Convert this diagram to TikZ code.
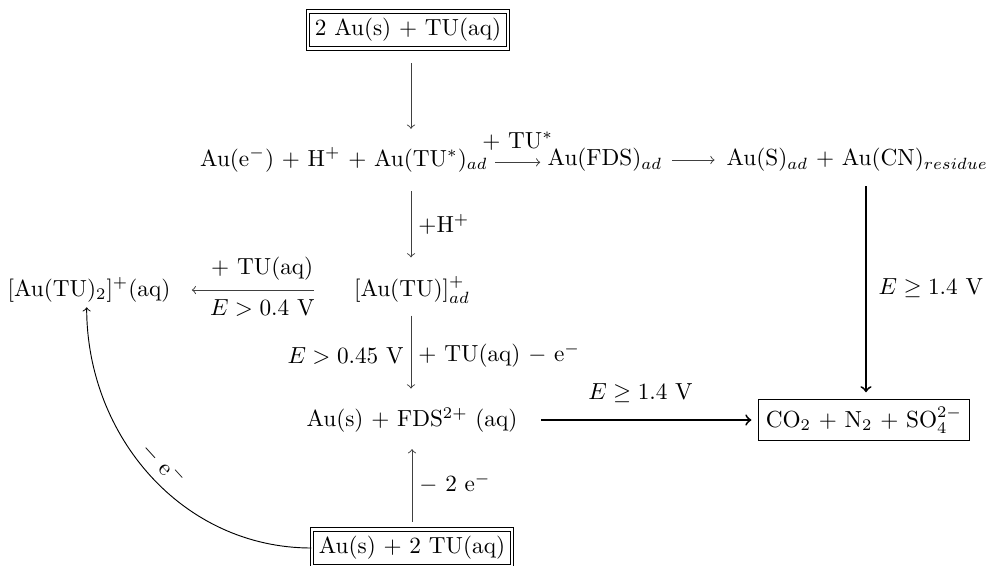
\documentclass[tikz,border=0pt]{standalone}
\begin{document}
\begin{tikzpicture}[x=0.43pt,y=-0.43pt,>=to]
\tikzset{
  dbox/.style={draw, double, double distance=1.1pt, inner sep=3pt},
  sbox/.style={draw, inner sep=3pt},
  chem/.style={inner sep=2pt},
  thinarr/.style={->, draw=black!75},
  thickarr/.style={->, thick},
  lbl/.style={inner sep=3pt}
}
\useasboundingbox (0,0) rectangle (993,565);
\node[dbox] (top) at (408,30) {2 Au(s) $+$ TU(aq)};
\node[chem] (r1) at (344,160) {Au(e$^-$) $+$ H$^+$ $+$ Au(TU$^*$)$_{ad}$};
\node[chem] (fds) at (605,160) {Au(FDS)$_{ad}$};
\node[chem, anchor=east] (s) at (993,160) {Au(S)$_{ad}$ $+$ Au(CN)$_{residue}$};
\node[chem] (tu) at (412,290) {[Au(TU)]$^+_{ad}$};
\node[chem] (tu2) at (89,290) {[Au(TU)$_2$]$^+$(aq)};
\node[chem] (fds2) at (412,420) {Au(s) $+$ FDS$^{2+}$ (aq)};
\node[sbox] (co2) at (864,420) {CO$_2$ $+$ N$_2$ $+$ SO$_4^{2-}$};
\node[dbox] (bot) at (412,548) {Au(s) $+$ 2 TU(aq)};

\draw[thinarr, shorten <=6pt, shorten >=6pt] (top.south -| 411,0) -- (411,0 |- r1.north);
\draw[thinarr, shorten <=1pt, shorten >=1pt] ([yshift=-1pt]r1.east) -- node[above, lbl, yshift=2pt] {$+$ TU$^*$} ([yshift=-1pt]fds.west);
\draw[thinarr, shorten <=2pt, shorten >=3pt] (fds.east) -- (s.west);
\draw[thinarr, shorten <=6pt, shorten >=6pt] (411,0 |- r1.south) -- node[right, lbl] {$+$H$^+$} (411,0 |- tu.north);
\draw[thinarr, shorten <=15pt, shorten >=7pt] (tu.west) -- node[above, lbl, yshift=1pt] {$+$ TU(aq)} node[below, lbl, yshift=-1pt] {$E > 0.4$ V} (tu2.east);
\draw[thinarr, shorten <=3pt, shorten >=6pt] (411,0 |- tu.south) -- node[left, lbl] {$E > 0.45$ V} node[right, lbl] {$+$ TU(aq) $-$ e$^-$} (411,0 |- fds2.north);
\draw[thickarr, shorten <=8pt, shorten >=3pt] (fds2.east) -- node[above, lbl, yshift=4pt] {$E \geq 1.4$ V} (fds2.east -| co2.west);
\draw[thickarr, shorten <=4pt, shorten >=3pt] (866,0 |- s.south) -- node[right, lbl, xshift=2pt] {$E \geq 1.4$ V} (866,0 |- co2.north);
\draw[thinarr, shorten <=3pt, shorten >=5pt] (412,0 |- bot.north) -- node[right, lbl] {$-$ 2 e$^-$} (412,0 |- fds2.south);
\draw[->] (bot.west) to[out=180, in=-90] node[pos=0.5, above, sloped, lbl] {$-$ e$^-$} ([xshift=-1pt]tu2.south);
\end{tikzpicture}
\end{document}
